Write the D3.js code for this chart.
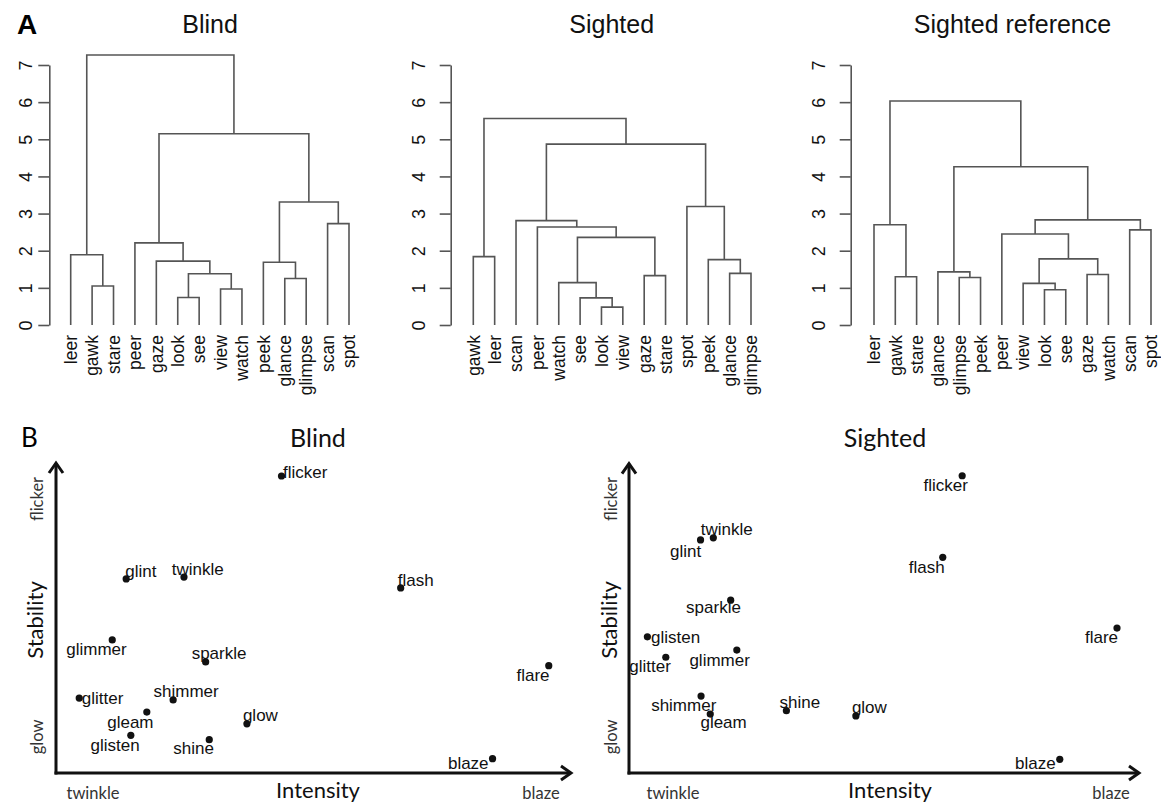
<!DOCTYPE html>
<html><head><meta charset="utf-8">
<script src="https://cdn.jsdelivr.net/npm/d3@7"></script>
<style>body{margin:0;background:#fff}</style>
</head><body>
<svg id="c" width="1161" height="803"></svg>
<script>
// ---------- Panel A: dendrograms (R hclust-style merges; negative = leaf index in order) ----------
const heightTicks = [0, 1, 2, 3, 4, 5, 6, 7];

const blindLabels = ["leer","gawk","stare","peer","gaze","look","see","view","watch","peek","glance","glimpse","scan","spot"];
const blindMerges = [[-6,-7],[-8,-9],[-2,-3],[-11,-12],[1,2],[-10,4],[-5,5],[-1,3],[-4,7],[-13,-14],[6,10],[9,11],[8,12]];
const blindHeights = [0.74,0.97,1.05,1.25,1.38,1.69,1.72,1.89,2.21,2.73,3.31,5.15,7.27];

const sightedLabels = ["gawk","leer","scan","peer","watch","see","look","view","gaze","stare","spot","peek","glance","glimpse"];
const sightedMerges = [[-7,-8],[-6,1],[-5,2],[-9,-10],[-13,-14],[-12,5],[-1,-2],[3,4],[-4,8],[-3,9],[-11,6],[10,11],[7,12]];
const sightedHeights = [0.48,0.73,1.14,1.33,1.39,1.76,1.84,2.36,2.64,2.81,3.19,4.87,5.56];

const refLabels = ["leer","gawk","stare","glance","glimpse","peek","peer","view","look","see","gaze","watch","scan","spot"];
const refMerges = [[-9,-10],[-8,1],[-5,-6],[-2,-3],[-11,-12],[-4,3],[2,5],[-7,7],[-13,-14],[-1,4],[8,9],[6,11],[10,12]];
const refHeights = [0.95,1.12,1.28,1.30,1.36,1.43,1.78,2.45,2.56,2.70,2.83,4.26,6.03];

// ---------- Panel B: 2-D semantic maps (Intensity x, Stability y, 0-100 scale) ----------
const blindWords = ["flicker","glint","twinkle","flash","glimmer","sparkle","flare","glitter","shimmer","gleam","glow","glisten","shine","blaze"];
const blindIntensity = [43.7,13.6,24.8,66.8,10.9,29.0,95.5,4.5,22.7,17.6,37.0,14.5,29.7,84.6];
const blindStability = [95.5,62.4,63.0,59.5,42.8,35.7,34.5,24.1,23.5,19.6,15.8,12.1,10.7,4.6];

const sightedWords = ["flicker","flash","glint","twinkle","sparkle","glisten","glitter","glimmer","flare","shimmer","gleam","shine","glow","blaze"];
const sightedIntensity = [65.2,61.4,14.0,16.5,19.9,3.6,7.2,21.1,95.5,14.1,15.9,30.8,44.4,84.3];
const sightedStability = [95.8,69.5,75.1,75.8,55.7,43.9,37.3,39.6,46.7,24.8,19.0,20.1,18.4,4.4];

const axisEndLabels = {xLow: "twinkle", xHigh: "blaze", yHigh: "flicker", yLow: "glow"};

// label placement (layout only): offset of text start/baseline from its dot
const blindLabelOffset = {flicker:[1.5,2],glint:[-1,-2.3],twinkle:[-12.3,-2],flash:[-3,-2.3],glimmer:[-46,15],sparkle:[-14,-2.7],flare:[-32.3,15.3],glitter:[2.5,6.3],shimmer:[-19.6,-3],gleam:[-39.6,15.7],glow:[-4,-2.6],glisten:[-40.3,15.4],shine:[-35.9,14.6],blaze:[-44.6,10.6]};
const sightedLabelOffset = {flicker:[-38.7,15.3],flash:[-34,15.4],glint:[-30.6,16.7],twinkle:[-12.6,-2.7],sparkle:[-44.6,13],glisten:[3.6,6],glitter:[-36.5,14.4],glimmer:[-47.4,15.7],flare:[-32,14.7],shimmer:[-49.9,15],gleam:[-9.8,14.3],shine:[-6.9,-3],glow:[-4,-2.7],blaze:[-44.8,10]};

const svg = d3.select("#c");
const ARIAL = "'Liberation Sans', Arial, sans-serif";
const CAL = "Lato, 'Open Sans', sans-serif";

// Panel labels
svg.append("text").attr("x", 17).attr("y", 34).text("A")
  .attr("font-family", ARIAL).attr("font-weight", "bold").attr("font-size", 28);
svg.append("text").attr("x", 21).attr("y", 447).text("B")
  .attr("font-family", CAL).attr("font-size", 26);

function drawDendro(cfg) {
  const g = svg.append("g");
  const x = d3.scalePoint().domain(cfg.labels).range(cfg.xr);
  const y = d3.scaleLinear().domain([0, 7]).range([325, 65]);
  const nodes = [];
  const pos = (id) => id < 0 ? {x: x(cfg.labels[-id - 1]), h: 0} : nodes[id - 1];
  const segs = [];
  cfg.merges.forEach((m, i) => {
    const a = pos(m[0]), b = pos(m[1]), h = cfg.heights[i];
    nodes.push({x: (a.x + b.x) / 2, h});
    segs.push(`M${a.x},${y(a.h)}V${y(h)}H${b.x}V${y(b.h)}`);
  });
  g.selectAll("path.br").data(segs).join("path").attr("class", "br")
    .attr("d", d => d).attr("fill", "none").attr("stroke", "#555").attr("stroke-width", 1.6);

  const ax = g.append("g").attr("transform", `translate(${cfg.axisX},0)`)
    .call(d3.axisLeft(y).tickValues(heightTicks).tickSize(11).tickSizeOuter(0).tickFormat(d3.format("d")));
  ax.select(".domain").attr("stroke", "#555").attr("stroke-width", 1.6);
  ax.selectAll(".tick line").attr("stroke", "#555").attr("stroke-width", 1.6);
  ax.selectAll(".tick text")
    .attr("x", null).attr("dy", "0.36em")
    .attr("transform", `translate(${cfg.tickLabelDx},0) rotate(-90)`)
    .attr("text-anchor", "middle").attr("fill", "#111")
    .attr("font-family", ARIAL).attr("font-size", 18);

  g.selectAll("text.leaf").data(cfg.labels).join("text").attr("class", "leaf")
    .attr("transform", d => `translate(${x(d)},335) rotate(-90)`)
    .attr("dy", "0.36em").attr("text-anchor", "end")
    .attr("font-family", ARIAL).attr("font-size", 17.5).attr("fill", "#111").text(d => d);

  g.append("text").attr("x", cfg.titleX).attr("y", 33).attr("text-anchor", "middle")
    .attr("font-family", ARIAL).attr("font-size", 25).attr("fill", "#111").text(cfg.title);
}

drawDendro({labels: blindLabels, merges: blindMerges, heights: blindHeights, xr: [70.7, 349], axisX: 49.3, tickLabelDx: -23.5, title: "Blind", titleX: 210});
drawDendro({labels: sightedLabels, merges: sightedMerges, heights: sightedHeights, xr: [473.3, 751], axisX: 450.7, tickLabelDx: -32.4, title: "Sighted", titleX: 611.7});
drawDendro({labels: refLabels, merges: refMerges, heights: refHeights, xr: [874, 1151], axisX: 850.7, tickLabelDx: -32.4, title: "Sighted reference", titleX: 1012.5});

function drawMap(cfg) {
  const g = svg.append("g");
  const x = d3.scaleLinear().domain([0, 100]).range(cfg.xr);
  const y = d3.scaleLinear().domain([0, 100]).range(cfg.yr);
  const x0 = x(0), y0 = y(0), xt = x(100), yt = y(100);
  // axes with arrows
  g.append("line").attr("x1", x0).attr("y1", y0 + 1.5).attr("x2", x0).attr("y2", yt + 1)
    .attr("stroke", "#111").attr("stroke-width", 3);
  g.append("line").attr("x1", x0 - 1.5).attr("y1", y0).attr("x2", xt - 1).attr("y2", y0)
    .attr("stroke", "#111").attr("stroke-width", 3);
  g.append("polyline").attr("points", `${x0 - 7},${yt + 11} ${x0},${yt + 1} ${x0 + 7},${yt + 11}`)
    .attr("fill", "none").attr("stroke", "#111").attr("stroke-width", 3);
  g.append("polyline").attr("points", `${xt - 11},${y0 - 7} ${xt - 1},${y0} ${xt - 11},${y0 + 7}`)
    .attr("fill", "none").attr("stroke", "#111").attr("stroke-width", 3);

  const data = cfg.words.map((w, i) => ({w, xi: cfg.xv[i], yi: cfg.yv[i]}));
  g.selectAll("circle").data(data).join("circle")
    .attr("cx", d => x(d.xi)).attr("cy", d => y(d.yi)).attr("r", 3.6).attr("fill", "#111");
  g.selectAll("text.pt").data(data).join("text").attr("class", "pt")
    .attr("x", d => x(d.xi) + cfg.off[d.w][0]).attr("y", d => y(d.yi) + cfg.off[d.w][1])
    .attr("font-family", ARIAL).attr("font-size", 17).attr("fill", "#111").text(d => d.w);

  // axis titles and end labels
  g.append("text").attr("x", cfg.titleX).attr("y", 447).attr("text-anchor", "middle")
    .attr("font-family", CAL).attr("font-size", 25).attr("fill", "#111").text(cfg.title);
  g.append("text").attr("x", cfg.intensityX).attr("y", 798).attr("text-anchor", "middle")
    .attr("font-family", CAL).attr("font-size", 22).attr("fill", "#111").text("Intensity");
  g.append("text").attr("x", cfg.lowX).attr("y", 799).attr("text-anchor", "middle")
    .attr("font-family", CAL).attr("font-size", 16.5).attr("fill", "#333").text(axisEndLabels.xLow);
  g.append("text").attr("x", cfg.highX).attr("y", 799).attr("text-anchor", "middle")
    .attr("font-family", CAL).attr("font-size", 16.5).attr("fill", "#333").text(axisEndLabels.xHigh);
  const rot = (txt, cy, size, col) => g.append("text")
    .attr("transform", `translate(${cfg.rotBase},${cy}) rotate(-90)`).attr("text-anchor", "middle")
    .attr("font-family", CAL).attr("font-size", size).attr("fill", col).text(txt);
  rot(axisEndLabels.yHigh, 499, 16.5, "#333");
  rot("Stability", 620, 22, "#111");
  rot(axisEndLabels.yLow, 737, 16.5, "#333");
}

drawMap({words: blindWords, xv: blindIntensity, yv: blindStability, off: blindLabelOffset,
  xr: [56, 572], yr: [773, 462], title: "Blind", titleX: 318, intensityX: 318, lowX: 93, highX: 541, rotBase: 43});
drawMap({words: sightedWords, xv: sightedIntensity, yv: sightedStability, off: sightedLabelOffset,
  xr: [629, 1140], yr: [773, 462.7], title: "Sighted", titleX: 885, intensityX: 890, lowX: 673, highX: 1111, rotBase: 617});
</script>
</body></html>
